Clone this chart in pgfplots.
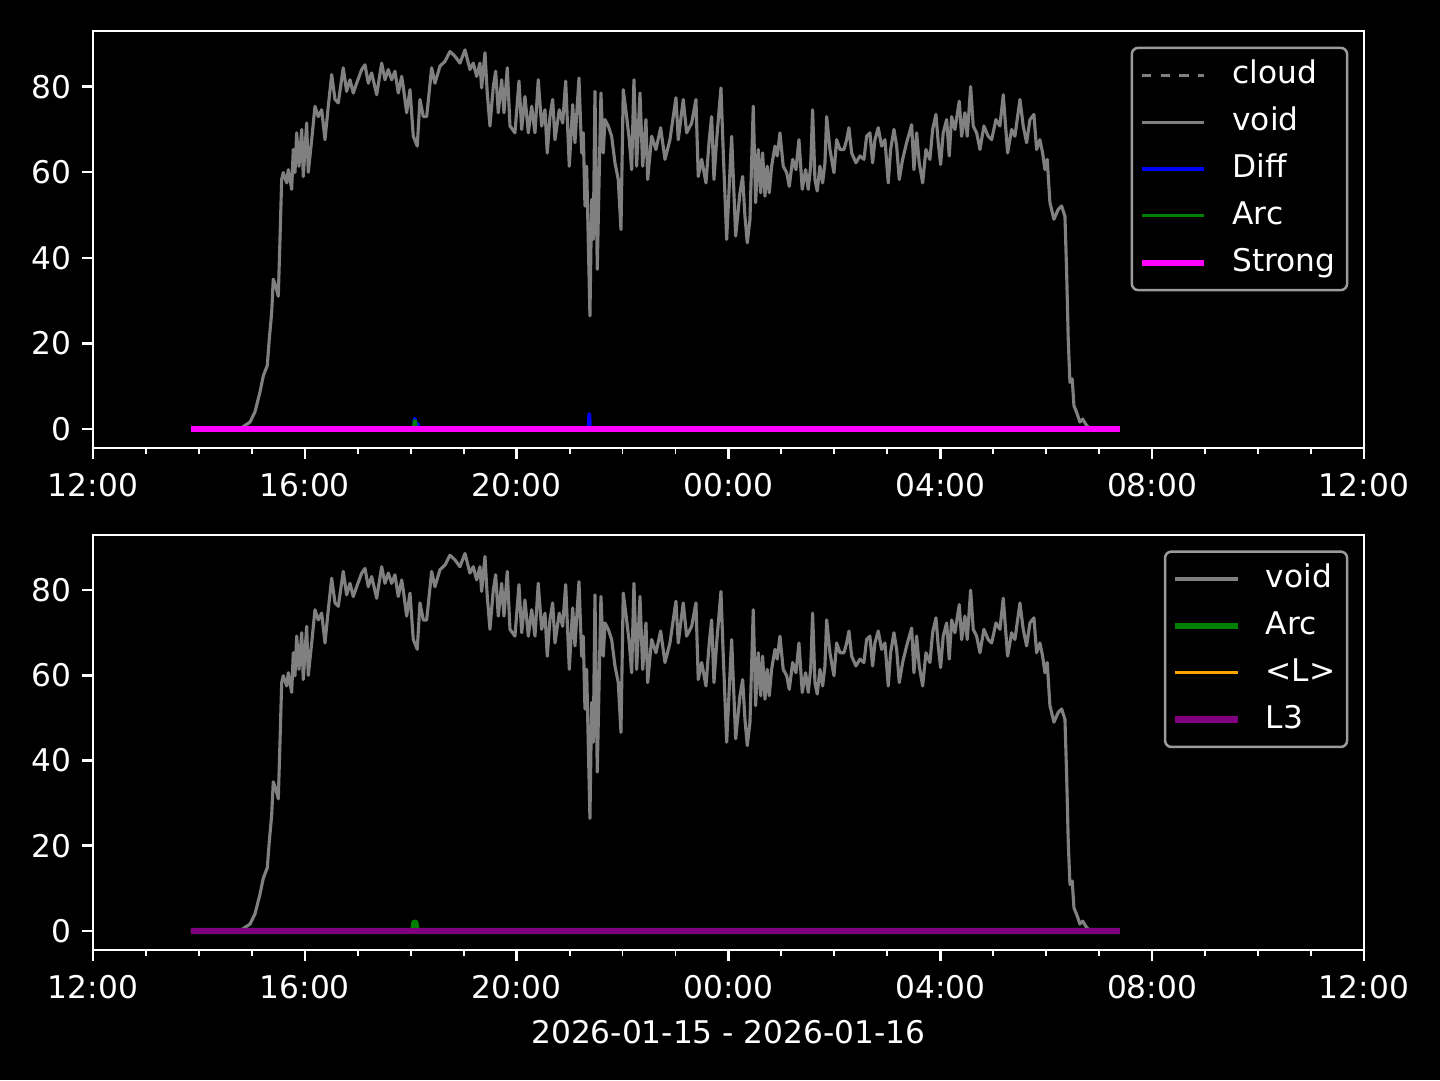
\documentclass[border=0pt]{standalone}
\usepackage{pgfplots}
\pgfplotsset{compat=1.18}
\usepackage{pgfplotstable}
\usepackage{fontspec}
\setmainfont{DejaVu Sans}

\definecolor{mplgray}{RGB}{128,128,128}
\definecolor{mplgreen}{RGB}{0,128,0}
\definecolor{mplblue}{RGB}{0,0,255}
\definecolor{mplmagenta}{RGB}{255,0,255}
\definecolor{mplorange}{RGB}{255,165,0}
\definecolor{mplpurple}{RGB}{128,0,128}
\definecolor{legedge}{RGB}{155,155,155}

\pgfplotstableread{
h v
1.850 0
2.776 0
2.832 0.5
2.965 1.6
3.059 4.0
3.153 8.6
3.216 12.4
3.291 14.8
3.329 21.0
3.374 27.2
3.404 35.0
3.450 33.4
3.499 31.0
3.531 44.3
3.563 58.3
3.593 59.9
3.657 57.5
3.688 60.6
3.752 56.0
3.782 65.3
3.814 59.9
3.846 69.2
3.890 61.4
3.941 70.0
3.971 59.0
4.035 71.5
4.065 60.0
4.130 67.6
4.192 75.4
4.254 73.0
4.318 74.6
4.381 67.6
4.443 75.4
4.507 82.8
4.570 77.0
4.632 76.2
4.726 84.4
4.790 78.9
4.853 81.6
4.915 78.5
4.979 80.8
5.074 84.0
5.136 85.1
5.198 80.8
5.262 83.2
5.357 78.1
5.451 85.5
5.514 81.6
5.576 84.0
5.640 81.6
5.702 83.6
5.765 78.5
5.829 82.4
5.859 80.0
5.923 73.9
5.986 79.3
6.048 68.4
6.123 66.1
6.174 77.0
6.237 73.0
6.301 73.0
6.395 84.4
6.458 80.8
6.552 84.8
6.647 85.9
6.741 88.2
6.835 87.1
6.930 85.5
7.024 88.6
7.118 84.0
7.181 85.5
7.245 82.4
7.307 85.5
7.339 79.7
7.402 87.9
7.445 78.5
7.496 70.8
7.559 80.0
7.604 83.6
7.653 73.9
7.717 81.6
7.761 73.9
7.823 84.4
7.874 70.8
7.968 69.2
8.044 81.3
8.095 70.0
8.157 77.7
8.220 69.2
8.284 75.4
8.346 69.2
8.408 81.6
8.472 70.8
8.535 74.6
8.578 64.5
8.629 73.0
8.680 77.0
8.724 67.6
8.805 74.6
8.869 71.5
8.926 81.3
8.994 61.4
9.058 75.8
9.101 66.9
9.177 82.0
9.228 64.5
9.258 69.2
9.290 52.1
9.322 61.4
9.352 44.3
9.384 26.4
9.416 53.6
9.447 44.3
9.479 78.9
9.522 37.3
9.560 59.9
9.592 78.5
9.636 64.5
9.668 72.3
9.730 70.8
9.794 68.4
9.857 62.2
9.919 58.3
9.970 46.6
10.013 79.3
10.077 73.0
10.127 67.6
10.172 60.6
10.215 81.6
10.266 61.4
10.329 78.5
10.380 61.4
10.442 72.3
10.474 58.3
10.549 68.4
10.631 65.3
10.719 70.4
10.801 63.0
10.895 67.6
11.008 77.4
11.052 67.6
11.146 77.0
11.210 69.2
11.305 71.5
11.386 77.0
11.429 59.0
11.494 63.0
11.575 57.5
11.637 67.6
11.682 73.0
11.726 58.3
11.777 67.6
11.858 79.7
11.902 64.5
11.966 44.3
12.060 68.4
12.136 45.1
12.217 55.2
12.268 59.0
12.311 49.7
12.355 43.5
12.406 49.0
12.468 75.4
12.513 52.9
12.562 65.3
12.608 55.2
12.645 64.5
12.689 54.4
12.732 61.4
12.770 55.2
12.815 61.4
12.878 66.1
12.921 63.8
12.972 69.2
13.034 61.4
13.099 59.9
13.148 56.7
13.212 63.0
13.274 60.6
13.331 67.6
13.393 56.0
13.457 60.6
13.506 56.0
13.552 61.4
13.589 74.6
13.633 58.3
13.676 55.6
13.727 61.4
13.778 57.5
13.822 62.2
13.854 73.0
13.916 65.3
13.992 59.9
14.043 67.6
14.105 65.3
14.181 65.3
14.232 67.6
14.275 70.4
14.326 64.5
14.407 62.2
14.483 63.8
14.558 63.0
14.609 68.4
14.671 69.2
14.722 62.2
14.766 67.6
14.828 70.4
14.892 66.1
14.955 67.6
15.017 57.5
15.062 65.3
15.125 70.0
15.176 66.1
15.225 58.3
15.289 63.0
15.364 66.9
15.459 71.1
15.502 60.6
15.553 69.2
15.602 62.2
15.667 57.5
15.729 65.3
15.804 63.0
15.855 70.0
15.918 73.5
15.961 66.9
16.006 61.8
16.055 69.2
16.120 72.3
16.169 63.8
16.214 73.0
16.276 70.0
16.358 76.6
16.403 68.4
16.465 73.9
16.509 68.4
16.573 80.0
16.622 70.8
16.686 69.2
16.749 65.3
16.824 70.8
16.905 68.4
16.970 67.6
17.051 72.3
17.126 70.8
17.189 78.1
17.271 64.5
17.347 70.0
17.409 68.4
17.504 77.0
17.566 70.8
17.630 66.9
17.693 72.3
17.768 73.5
17.819 65.3
17.881 67.6
17.932 64.5
17.976 60.6
18.019 63.0
18.070 52.9
18.146 49.0
18.227 51.3
18.291 52.1
18.354 49.7
18.386 36.5
18.416 21.0
18.448 10.9
18.491 11.7
18.524 5.4
18.574 3.9
18.637 1.6
18.688 2.3
18.763 0.8
18.825 0
19.392 0
}\voiddata

\pgfplotstableread{
h v
1.850 0
6.050 0
6.070 2.4
6.085 2.4
6.100 0.3
6.125 1.2
6.140 1.2
6.160 0
9.355 0
9.365 3.5
9.380 3.5
9.390 0
19.392 0
}\diffdata

\pgfplotstableread{
h v
1.850 0
6.050 0
6.068 1.9
6.088 1.9
6.105 0
19.392 0
}\arcdata

\pgfplotstableread{
h v
1.850 0
19.392 0
}\flatdata

\pgfplotsset{
  myaxis/.style={
    scale only axis, width=406.7pt, height=133.4pt,
    xmin=0, xmax=24, ymin=-4.43, ymax=93.0,
    axis background/.style={fill=black},
    xtick={0,4,...,24},
    xticklabels={12:00,16:00,20:00,00:00,04:00,08:00,12:00},
    minor xtick={1,2,3,5,6,7,9,10,11,13,14,15,17,18,19,21,22,23},
    ytick={0,20,40,60,80},
    tick align=outside, tick pos=left,
    major tick length=3.5pt, minor tick length=2pt,
    major tick style={white, line width=0.8pt},
    minor tick style={white, line width=0.6pt},
    axis line style={white, line width=0.8pt},
    ticklabel style={text=white, font=\fontsize{10}{12}\selectfont},
    xticklabel style={yshift=-1pt},
    /pgf/number format/assume math mode=true,
    every axis plot/.append style={line join=round},
    legend cell align=left,
    legend image code/.code={\draw[#1] (0pt,0pt) -- (20pt,0pt);},
    legend style={at={(1,1)}, anchor=north east, xshift=-5pt, yshift=-5pt,
      fill=black, draw=legedge, line width=0.8pt, rounded corners=2pt,
      text=white, font=\fontsize{10}{12}\selectfont,
      inner xsep=2.2pt, inner ysep=2.5pt, row sep=2.5pt, column sep=6.5pt,
      nodes={inner sep=1.5pt, text height=7.5pt, text depth=2pt}},
  }
}

\begin{document}
\begin{tikzpicture}
\useasboundingbox (-29.76pt,9.92pt) rectangle (431.04pt,-335.68pt);
\fill[black] (-29.76pt,9.92pt) rectangle (431.04pt,-335.68pt);

\begin{axis}[myaxis, at={(0pt,0pt)}, anchor=north west]
\addlegendimage{mplgray, dashed, line width=1pt}
\addlegendentry{cloud}
\addplot[mplgray, line width=1pt] table[x=h, y=v] {\voiddata};
\addlegendentry{void}
\addplot[mplblue, line width=1pt] table[x=h, y=v] {\diffdata};
\addlegendentry{Diff}
\addplot[mplgreen, line width=1pt] table[x=h, y=v] {\arcdata};
\addlegendentry{Arc}
\addplot[mplmagenta, line width=2pt] table[x=h, y=v] {\flatdata};
\addlegendentry{Strong}
\end{axis}

\begin{axis}[myaxis, height=132.8pt, at={(0pt,-161.2pt)}, anchor=north west,
  xlabel={2026-01-15 - 2026-01-16},
  xlabel style={text=white, font=\fontsize{10}{12}\selectfont}]
\addplot[mplgray, line width=1pt] table[x=h, y=v] {\voiddata};
\addlegendentry{void}
\addplot[mplgreen, line width=2pt] table[x=h, y=v] {\arcdata};
\addlegendentry{Arc}
\addplot[mplorange, line width=1pt] table[x=h, y=v] {\flatdata};
\addlegendentry{<L>}
\addplot[mplpurple, line width=2pt] table[x=h, y=v] {\flatdata};
\addlegendentry{L3}
\end{axis}
\end{tikzpicture}
\end{document}
